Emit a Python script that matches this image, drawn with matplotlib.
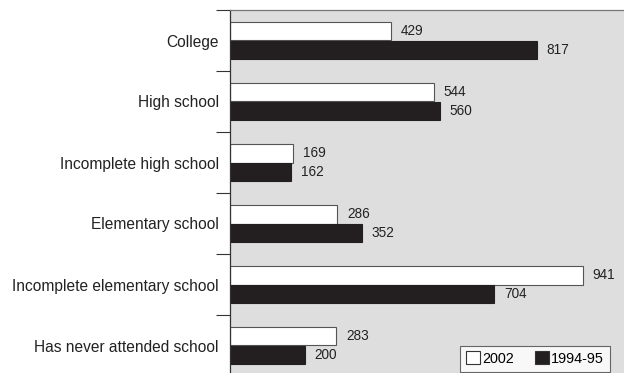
import numpy as np
import matplotlib.pyplot as plt

plt.rcParams['font.family'] = ['Liberation Sans', 'DejaVu Sans']

categories = ['College', 'High school', 'Incomplete high school', 'Elementary school',
              'Incomplete elementary school', 'Has never attended school']
values_2002 = [429, 544, 169, 286, 941, 283]
values_1994 = [817, 560, 162, 352, 704, 200]
series_labels = ['2002', '1994-95']

bg_color = '#dedede'
dark = '#231f20'
bar_h = 0.31

fig = plt.figure(figsize=(6.24, 3.73), dpi=100)
ax = fig.add_axes([230 / 624, -3 / 373, 394 / 624, 366 / 373])
ax.set_facecolor(bg_color)

y = np.arange(len(categories))
b1 = ax.barh(y - bar_h / 2, values_2002, height=bar_h, color='white',
             edgecolor='#555555', linewidth=0.8, label=series_labels[0])
b2 = ax.barh(y + bar_h / 2, values_1994, height=bar_h, color=dark,
             edgecolor=dark, linewidth=0.8, label=series_labels[1])

for rect, v in zip(b1, values_2002):
    ax.text(v + 26, rect.get_y() + rect.get_height() / 2, str(v),
            va='center', ha='left', fontsize=9.8, color='#222222')
for rect, v in zip(b2, values_1994):
    ax.text(v + 26, rect.get_y() + rect.get_height() / 2, str(v),
            va='center', ha='left', fontsize=9.8, color='#222222')

ax.set_xlim(0, 1050)
ax.set_ylim(len(categories) - 0.5, -0.5)

# category labels centred between boundary ticks
ax.set_yticks(y)
ax.set_yticklabels(categories, fontsize=11.2, color='#222222')
ax.tick_params(axis='y', which='major', length=0, pad=8)
ax.set_yticks(np.arange(len(categories) + 1) - 0.5, minor=True)
ax.tick_params(axis='y', which='minor', length=10, width=0.8, color='#333333')
ax.set_xticks([])

ax.spines['left'].set_color('#333333')
ax.spines['left'].set_linewidth(0.9)
ax.spines['top'].set_color('#777777')
ax.spines['top'].set_linewidth(0.9)
ax.spines['right'].set_visible(False)
ax.spines['bottom'].set_visible(False)

leg = ax.legend(loc='lower right', ncol=2, fontsize=10.4, frameon=True, fancybox=False,
                handlelength=0.95, handleheight=1.0, handletextpad=0.15, columnspacing=1.5,
                borderpad=0.4, borderaxespad=0.3, bbox_to_anchor=(0.975, 0.0))
leg.get_frame().set_edgecolor('#444444')
leg.get_frame().set_linewidth(0.8)
for h in leg.legend_handles:
    h.set_edgecolor('#333333')

fig.savefig('out.png', dpi=100)
